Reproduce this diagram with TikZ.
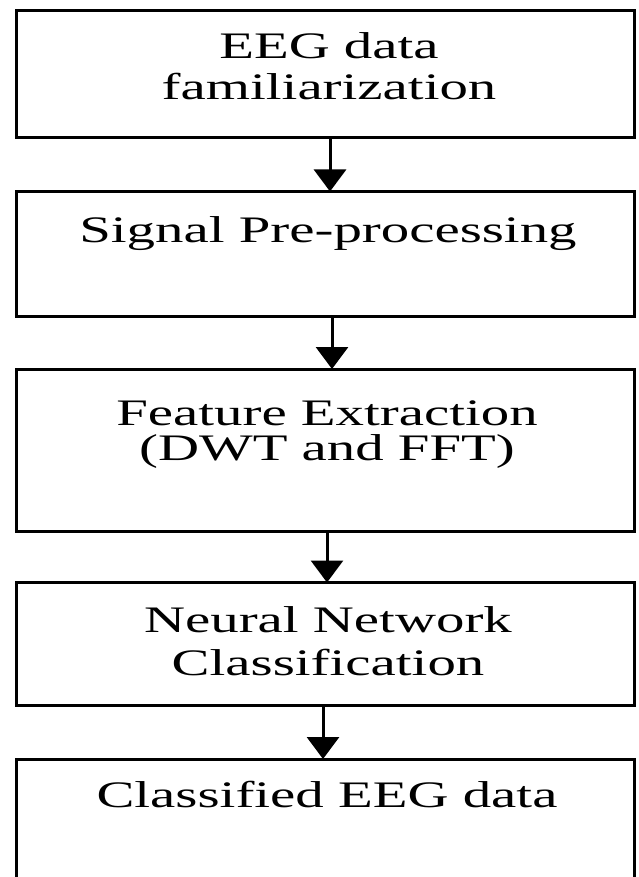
\documentclass[tikz,border=0pt]{standalone}
\usepackage{fontspec}
\setmainfont{Liberation Serif}
\newfontfamily\stagefont[FakeStretch=1.52]{Liberation Serif}
\usetikzlibrary{arrows.meta}
\begin{document}
\begin{tikzpicture}[x=1pt,y=-1pt,
  stagebox/.style={draw, line width=3pt, minimum width=618pt, inner sep=0pt, outer sep=0pt},
  stagetext/.style={anchor=base, inner sep=0pt, font=\stagefont\fontsize{37.4}{40}\selectfont},
  flow/.style={line width=3pt, -{Triangle[length=22pt,width=32pt]}}]
\useasboundingbox (0,0) rectangle (638,877);
\clip (0,0) rectangle (638,877);

% processing stages
\node[stagebox, minimum height=126.5pt] (b1) at (325,74.25) {};
\node[stagebox, minimum height=125pt]   (b2) at (325,254) {};
\node[stagebox, minimum height=162pt]   (b3) at (325,450) {};
\node[stagebox, minimum height=123pt]   (b4) at (325,644) {};
\node[stagebox, minimum height=201pt]   (b5) at (325,859.5) {};

% stage labels
\node[stagetext] (t1a) at (329,58.3) {EEG data};
\node[stagetext] (t1b) at (329,100) {familiarization};
\node[stagetext] (t2)  at (328,242) {Signal Pre-processing};
\node[stagetext] (t3a) at (327,425) {Feature Extraction};
\node[stagetext] (t3b) at (327,460) {(DWT and FFT)};
\node[stagetext] (t4a) at (328,632) {Neural Network};
\node[stagetext] (t4b) at (328,675) {Classification};
\node[stagetext] (t5)  at (327,807) {Classified EEG data};

% flow between stages
\draw[flow] ([xshift=5pt]b1.south) -- ([xshift=5pt]b2.north);
\draw[flow] ([xshift=7pt]b2.south) -- ([xshift=7pt]b3.north);
\draw[flow] ([xshift=2pt]b3.south) -- ([xshift=2pt]b4.north);
\draw[flow] ([xshift=-2pt]b4.south) -- ([xshift=-2pt]b5.north);
\end{tikzpicture}
\end{document}
